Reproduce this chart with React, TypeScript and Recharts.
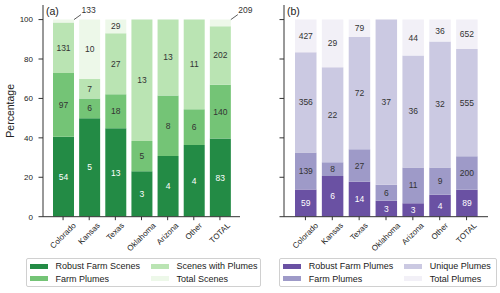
import { BarChart, Bar, XAxis, YAxis, LabelList } from 'recharts';

const states = ['Colorado', 'Kansas', 'Texas', 'Oklahoma', 'Arizona', 'Other', 'TOTAL'];

// (a) scene counts, each level includes the ones below it
const robustFarmScenes = [54, 5, 13, 3, 4, 4, 83];
const farmPlumeScenes = [97, 6, 18, 5, 8, 6, 140];
const scenesWithPlumes = [131, 7, 27, 13, 13, 11, 202];
const totalScenes = [133, 10, 29, 13, 13, 11, 209];

// (b) plume counts, same cumulative layout
const robustFarmPlumes = [59, 6, 14, 3, 3, 4, 89];
const farmPlumes = [139, 8, 27, 6, 11, 9, 200];
const uniquePlumes = [356, 22, 72, 37, 36, 32, 555];
const totalPlumes = [427, 29, 79, 37, 44, 36, 652];

const sceneNames = ['Robust Farm Scenes', 'Farm Plumes', 'Scenes with Plumes', 'Total Scenes'];
const plumeNames = ['Robust Farm Plumes', 'Farm Plumes', 'Unique Plumes', 'Total Plumes'];
const greens = ['#238b45', '#74c476', '#bae4b3', '#edf8e9'];
const purples = ['#6a51a3', '#9e9ac8', '#cbc9e2', '#f2f0f7'];
const yTicks = [0, 20, 40, 60, 80, 100];

const FONT = '"Liberation Sans", Arial, sans-serif';
const AXIS = '#333';
const PLOT_TOP = 5;
const PLOT_BOTTOM = 216.7;

let ctx: CanvasRenderingContext2D | null = null;
const textWidth = (t: string, size: number) => {
  if (!ctx) ctx = document.createElement('canvas').getContext('2d');
  if (!ctx) return t.length * size * 0.55;
  ctx.font = `${size}px ${FONT}`;
  return ctx.measureText(t).width;
};

// rotated 45deg, bounding box centred under the tick
const RotatedTick = (props: any) => {
  const { x, y, payload } = props;
  const size = 8;
  const w = textWidth(String(payload.value), size);
  const cy = y + ((w + size * 0.9) * Math.SQRT1_2) / 2;
  return (
    <text
      x={x}
      y={cy}
      transform={`rotate(-45 ${x} ${cy})`}
      textAnchor="middle"
      dominantBaseline="central"
      fontSize={size}
      fill="#222"
    >
      {payload.value}
    </text>
  );
};

const makeRows = (levels: number[][]) =>
  states.map((name, i) => {
    const total = levels[3][i];
    const row: Record<string, number | string> = { name };
    levels.forEach((lv, k) => {
      const prev = k ? levels[k - 1][i] : 0;
      row[`s${k}`] = ((lv[i] - prev) / total) * 100;
    });
    return row;
  });

// LabelList is keyed on the category name, so empty segments can't shift the lookup
const segmentLabel = (levels: number[][], k: number) => (props: any) => {
  const i = states.indexOf(String(props.value));
  if (i < 0) return null;
  const x = Number(props.x);
  const y = Number(props.y);
  const width = Number(props.width);
  const height = Number(props.height);
  const count = levels[k][i];
  const prev = k ? levels[k - 1][i] : 0;
  if (count === prev) return null;
  const pct = ((count - prev) / levels[3][i]) * 100;
  if (k === 3 && pct < 5) {
    // too thin to hold the number: put it above with a short leader
    const x0 = x + width;
    return (
      <g>
        <line x1={x0} y1={y} x2={x0 + 7} y2={y - 5} stroke="#333" strokeWidth={0.8} />
        <text x={x0 + 7.5} y={y - 9.5} textAnchor="start" dominantBaseline="central" fontSize={8.5} fill="#333">
          {count}
        </text>
      </g>
    );
  }
  return (
    <text
      x={x + width / 2}
      y={y + height / 2}
      textAnchor="middle"
      dominantBaseline="central"
      fontSize={8.5}
      fill={k === 0 ? '#fff' : '#333'}
    >
      {count}
    </text>
  );
};

const PercentLabel = (props: any) => {
  const vb = props.viewBox || {};
  const cy = vb.height ? vb.y + vb.height / 2 : (PLOT_TOP + PLOT_BOTTOM) / 2;
  return (
    <text
      x={10.5}
      y={cy}
      transform={`rotate(-90 10.5 ${cy})`}
      textAnchor="middle"
      dominantBaseline="central"
      fontSize={10.5}
      fill="#222"
    >
      Percentage
    </text>
  );
};

interface PanelProps {
  tag: string;
  levels: number[][];
  colors: string[];
  names: string[];
  left: number;
  chartWidth: number;
  axisWidth: number;
  rightMargin: number;
  pad: number;
  barSize: number;
  showYLabels: boolean;
  legendLeft: number;
  legendWidth: number;
}

function StackPanel(p: PanelProps) {
  const rows = makeRows(p.levels);
  const chartH = 258;
  return (
    <div style={{ position: 'absolute', left: p.left, top: 0, width: p.chartWidth, height: 293 }}>
      <BarChart
        width={p.chartWidth}
        height={chartH}
        data={rows}
        margin={{ top: PLOT_TOP, right: p.rightMargin, bottom: 0, left: 0 }}
      >
        <XAxis
          dataKey="name"
          interval={0}
          tick={<RotatedTick />}
          tickSize={3.5}
          tickMargin={1.5}
          height={chartH - PLOT_BOTTOM}
          padding={{ left: p.pad, right: p.pad }}
          axisLine={{ stroke: AXIS }}
          tickLine={{ stroke: AXIS }}
        />
        <XAxis
          xAxisId="top"
          orientation="top"
          dataKey="name"
          height={0}
          tick={false}
          tickLine={false}
          axisLine={{ stroke: AXIS }}
        />
        <YAxis
          domain={[0, 107.4]}
          ticks={yTicks}
          allowDataOverflow
          width={p.axisWidth}
          tickSize={4.5}
          tickMargin={5.5}
          tickFormatter={(v) => (p.showYLabels ? String(v) : '')}
          tick={{ fontSize: 8, fill: '#222' }}
          axisLine={{ stroke: AXIS }}
          tickLine={{ stroke: AXIS }}
          label={p.showYLabels ? <PercentLabel /> : undefined}
        />
        <YAxis
          yAxisId="right"
          orientation="right"
          type="number"
          domain={[0, 1]}
          width={0}
          tick={false}
          tickLine={false}
          axisLine={{ stroke: AXIS }}
        />
        {p.colors.map((c, k) => (
          <Bar key={k} dataKey={`s${k}`} stackId="a" fill={c} barSize={p.barSize} isAnimationActive={false}>
            <LabelList dataKey="name" content={segmentLabel(p.levels, k)} />
          </Bar>
        ))}
      </BarChart>
      <div
        style={{
          position: 'absolute',
          left: p.axisWidth + 3,
          top: 5,
          fontSize: 10.5,
          lineHeight: '12px',
          color: '#222',
        }}
      >
        {p.tag}
      </div>
      <div
        style={{
          position: 'absolute',
          left: p.legendLeft,
          top: 258,
          width: p.legendWidth,
          height: 29,
          boxSizing: 'border-box',
          border: '1px solid #d0d0d0',
          borderRadius: 2,
          display: 'grid',
          gridTemplateColumns: '121px auto',
          gridTemplateRows: '12.6px 12.6px',
          gridAutoFlow: 'column',
          paddingTop: 1,
          paddingLeft: 2.5,
          fontSize: 9,
          color: '#222',
        }}
      >
        {p.names.map((n, k) => (
          <div key={n} style={{ display: 'flex', alignItems: 'center', whiteSpace: 'nowrap' }}>
            <span style={{ width: 18.5, height: 5, background: p.colors[k], marginRight: 7.5, flex: 'none' }} />
            <span>{n}</span>
          </div>
        ))}
      </div>
    </div>
  );
}

export default function App() {
  return (
    <div
      style={{
        position: 'absolute',
        left: 0,
        top: 0,
        width: 500,
        height: 293,
        background: '#fff',
        fontFamily: FONT,
        overflow: 'hidden',
      }}
    >
      <StackPanel
        tag="(b)"
        levels={[robustFarmPlumes, farmPlumes, uniquePlumes, totalPlumes]}
        colors={purples}
        names={plumeNames}
        left={250}
        chartWidth={250}
        axisWidth={34}
        rightMargin={12}
        pad={8}
        barSize={21.5}
        showYLabels={false}
        legendLeft={29.3}
        legendWidth={217.4}
      />
      {/* drawn last and a little wider so the "209" call-out is not clipped */}
      <StackPanel
        tag="(a)"
        levels={[robustFarmScenes, farmPlumeScenes, scenesWithPlumes, totalScenes]}
        colors={greens}
        names={sceneNames}
        left={0}
        chartWidth={262}
        axisWidth={43}
        rightMargin={22}
        pad={7}
        barSize={21}
        showYLabels
        legendLeft={26}
        legendWidth={235}
      />
    </div>
  );
}
